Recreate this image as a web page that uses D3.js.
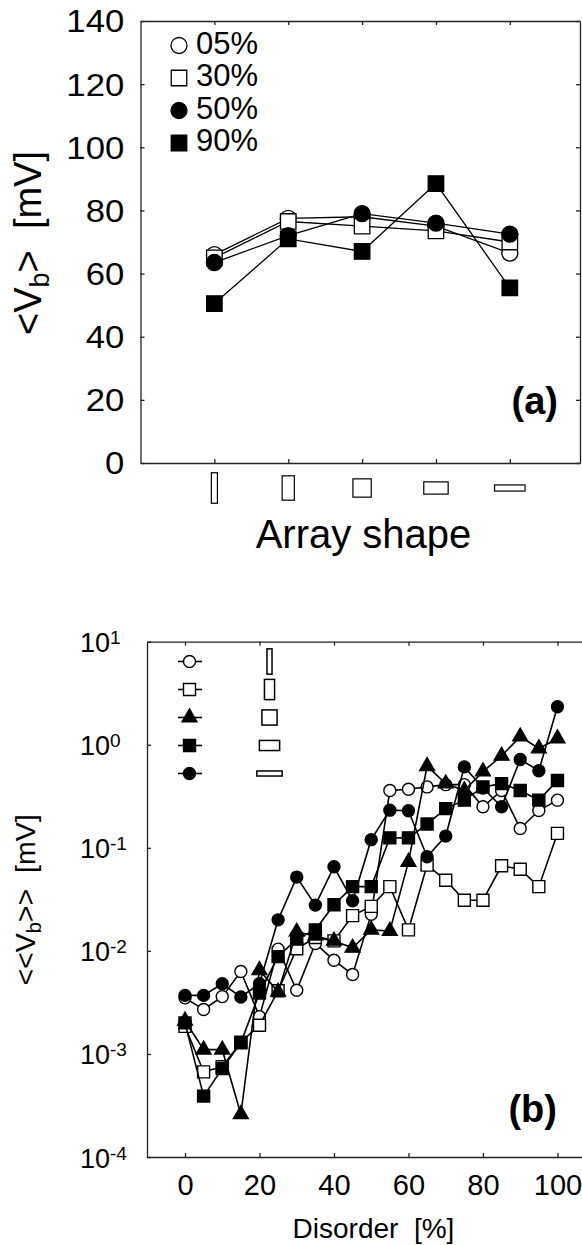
<!DOCTYPE html>
<html>
<head>
<meta charset="utf-8">
<script src="https://cdn.jsdelivr.net/npm/d3@7"></script>
<style>
  body { margin: 0; background: #fff; }
  text { font-family: "Liberation Sans", Arial, Helvetica, sans-serif; fill: #000; }
</style>
</head>
<body>
<svg id="chart" width="582" height="1245"></svg>
<script>

// ---- panel (a): <Vb> vs array shape, one line per disorder level
let shapeW = [10, 20, 30, 40, 50];
let shapeH = [50, 40, 30, 20, 10];
let levelsA = ['05%', '30%', '50%', '90%'];
let vb05 = [66, 77.5, 78, 75, 66.5];
let vb30 = [65, 76.5, 75, 73.5, 70];
let vb50 = [63.5, 72, 79, 76, 72.5];
let vb90 = [50.5, 71, 67, 88.5, 55.5];
let yTicksA = [0, 20, 40, 60, 80, 100, 120, 140];

// ---- panel (b): <<Vb>> vs disorder, one line per array shape
let disorder = [0, 5, 10, 15, 20, 25, 30, 35, 40, 45, 50, 55, 60, 65, 70, 75, 80, 85, 90, 95, 100];
let s10x50 = [3.5e-3, 2.7e-3, 3.6e-3, 6.3e-3, 2.3e-3, 1.04e-2, 4.15e-3, 1.18e-2, 8.1e-3, 5.9e-3, 2.27e-2,
              0.36, 0.37, 0.39, 0.41, 0.41, 0.25, 0.36, 0.154, 0.23, 0.29];
let s20x40 = [1.85e-3, 6.7e-4, 7.5e-4, 1.3e-3, 1.9e-3, 4.1e-3, 1.05e-2, 1.35e-2, 1.25e-2, 2.2e-2, 2.7e-2,
              4.2e-2, 1.6e-2, 6.8e-2, 4.85e-2, 3.1e-2, 3.1e-2, 6.7e-2, 6.2e-2, 4.2e-2, 0.138];
let s30x30 = [2.1e-3, 1.1e-3, 1.1e-3, 2.6e-4, 6.5e-3, 4.0e-3, 1.53e-2, 1.4e-2, 1.25e-2, 1.07e-2, 1.6e-2,
              1.56e-2, 7.3e-2, 0.62, 0.42, 0.36, 0.55, 0.78, 1.2, 0.92, 1.15];
let s40x20 = [2.0e-3, 3.9e-4, 7.2e-4, 1.28e-3, 3.9e-3, 8.8e-3, 1.3e-2, 1.6e-2, 2.8e-2, 4.2e-2, 4.2e-2,
              0.125, 0.125, 0.17, 0.24, 0.29, 0.39, 0.42, 0.36, 0.29, 0.45];
let s50x10 = [3.7e-3, 3.7e-3, 4.8e-3, 3.57e-3, 4.8e-3, 2.0e-2, 5.2e-2, 2.78e-2, 6.55e-2, 3.06e-2, 0.12,
              0.232, 0.229, 0.082, 0.13, 0.61, 0.38, 0.25, 0.72, 0.56, 2.34];
let xTicksB = [0, 20, 40, 60, 80, 100];
let yExpB = [-4, -3, -2, -1, 0, 1];

let svg = d3.select('#chart');

function sym(type, size) {
  return d3.symbol().type(type).size(size)();
}

// ================= panel (a) =================
let xA = d3.scaleLinear().domain([0, 5.95]).range([140.5, 580]);
let yA = d3.scaleLinear().domain([0, 140]).range([463, 21]);
let catsA = [1, 2, 3, 4, 5];
let sizeA = d3.scaleLinear().domain([0, 50]).range([0, 30.5]);

let gA = svg.append('g');

gA.append('g')
  .attr('transform', 'translate(140.5,0)')
  .call(d3.axisLeft(yA).tickValues(yTicksA).tickSizeInner(-4).tickSizeOuter(0).tickPadding(14.5))
  .call(g => g.selectAll('text')
    .attr('font-size', 31)
    .attr('dy', '0.35em')
    .attr('transform', 'scale(1.12,1)'));
gA.append('g')
  .attr('transform', 'translate(580,0)')
  .call(d3.axisRight(yA).tickValues(yTicksA).tickSizeInner(-4).tickSizeOuter(0).tickFormat(''));
gA.append('g')
  .attr('transform', 'translate(0,463)')
  .call(d3.axisBottom(xA).tickValues(catsA).tickSizeInner(-4).tickSizeOuter(0).tickFormat(''));
gA.append('g')
  .attr('transform', 'translate(0,21)')
  .call(d3.axisTop(xA).tickValues(catsA).tickSizeInner(-4).tickSizeOuter(0).tickFormat(''));
gA.selectAll('.domain, .tick line').attr('stroke', '#222').attr('stroke-width', 1.3);

// shape icons as category labels
gA.selectAll('rect.shape')
  .data(catsA)
  .join('rect')
  .attr('class', 'shape')
  .attr('x', (d, i) => xA(d) - sizeA(shapeW[i]) / 2)
  .attr('y', (d, i) => 488 - sizeA(shapeH[i]) / 2)
  .attr('width', (d, i) => sizeA(shapeW[i]))
  .attr('height', (d, i) => sizeA(shapeH[i]))
  .attr('fill', 'none')
  .attr('stroke', '#000')
  .attr('stroke-width', 1.2);

gA.append('text')
  .attr('x', 363.5).attr('y', 548)
  .attr('text-anchor', 'middle')
  .attr('font-size', 40)
  .text('Array shape');

let yLabA = gA.append('text')
  .attr('transform', 'translate(41,243) rotate(-90)')
  .attr('text-anchor', 'middle')
  .attr('font-size', 38);
yLabA.append('tspan').text('<V');
yLabA.append('tspan').attr('font-size', 27).attr('dy', 8).text('b');
yLabA.append('tspan').attr('dy', -8).text('>\u00A0\u00A0[mV]');

gA.append('text')
  .attr('x', 558).attr('y', 414)
  .attr('text-anchor', 'end')
  .attr('font-size', 38)
  .attr('font-weight', 'bold')
  .text('(a)');

let seriesA = [
  { vals: vb05, type: d3.symbolCircle, size: 201, fill: '#fff' },
  { vals: vb30, type: d3.symbolSquare, size: 240, fill: '#fff' },
  { vals: vb50, type: d3.symbolCircle, size: 201, fill: '#000' },
  { vals: vb90, type: d3.symbolSquare, size: 240, fill: '#000' }
];

let lineA = d3.line().x((d, i) => xA(catsA[i])).y(d => yA(d));

seriesA.forEach(s => {
  gA.append('path')
    .attr('d', lineA(s.vals))
    .attr('fill', 'none')
    .attr('stroke', '#000')
    .attr('stroke-width', 1.3);
  gA.selectAll(null)
    .data(s.vals)
    .join('path')
    .attr('transform', (d, i) => `translate(${xA(catsA[i])},${yA(d)})`)
    .attr('d', sym(s.type, s.size))
    .attr('fill', s.fill)
    .attr('stroke', '#000')
    .attr('stroke-width', 1.3);
});

// legend (a)
let legA = gA.selectAll('g.legA')
  .data(levelsA)
  .join('g')
  .attr('class', 'legA')
  .attr('transform', (d, i) => `translate(179,${45.5 + i * 32.5})`);
legA.append('path')
  .attr('d', (d, i) => sym(seriesA[i].type, seriesA[i].size))
  .attr('fill', (d, i) => seriesA[i].fill)
  .attr('stroke', '#000')
  .attr('stroke-width', 1.3);
legA.append('text')
  .attr('x', 17).attr('y', 8)
  .attr('font-size', 31)
  .text(d => d);

// ================= panel (b) =================
let xB = d3.scaleLinear().domain([-10.2, 108.2]).range([147, 588]);
let yB = d3.scaleLog().domain([1e-4, 10]).range([1157, 641.7]);
let sizeB = d3.scaleLinear().domain([0, 50]).range([0, 25.3]);
let yTickVals = yExpB.map(e => Math.pow(10, e));

let gB = svg.append('g');

gB.append('g')
  .attr('transform', 'translate(147,0)')
  .call(d3.axisLeft(yB).tickValues(yTickVals).tickSizeInner(-4).tickSizeOuter(0).tickFormat(''));
gB.append('g')
  .attr('transform', 'translate(588,0)')
  .call(d3.axisRight(yB).tickValues(yTickVals).tickSizeInner(-4).tickSizeOuter(0).tickFormat(''));
gB.append('g')
  .attr('transform', 'translate(0,1157)')
  .call(d3.axisBottom(xB).tickValues(xTicksB).tickSizeInner(-4).tickSizeOuter(0).tickPadding(17))
  .call(g => g.selectAll('text').attr('font-size', 29));
gB.append('g')
  .attr('transform', 'translate(0,641.7)')
  .call(d3.axisTop(xB).tickValues(xTicksB).tickSizeInner(-4).tickSizeOuter(0).tickFormat(''));
gB.selectAll('.domain, .tick line').attr('stroke', '#222').attr('stroke-width', 1.3);

// 10^n tick labels
let yLabs = gB.selectAll('text.ylab')
  .data(yExpB)
  .join('text')
  .attr('class', 'ylab')
  .attr('x', 80)
  .attr('y', d => yB(Math.pow(10, d)) + 10.5)
  .attr('font-size', 27);
yLabs.append('tspan').text('10');
yLabs.append('tspan').attr('font-size', 19).attr('dy', -8).text(d => String(d));

gB.append('text')
  .attr('x', 373.5).attr('y', 1238)
  .attr('text-anchor', 'middle')
  .attr('font-size', 28)
  .text('Disorder\u00A0\u00A0[%]');

let yLabB = gB.append('text')
  .attr('transform', 'translate(35,900) rotate(-90)')
  .attr('text-anchor', 'middle')
  .attr('font-size', 28.5);
yLabB.append('tspan').text('<<V');
yLabB.append('tspan').attr('font-size', 20).attr('dy', 6).text('b');
yLabB.append('tspan').attr('dy', -6).text('>>\u00A0\u00A0[mV]');

gB.append('text')
  .attr('x', 557).attr('y', 1122)
  .attr('text-anchor', 'end')
  .attr('font-size', 38)
  .attr('font-weight', 'bold')
  .text('(b)');

let seriesB = [
  { vals: s10x50, type: d3.symbolCircle, size: 113, fill: '#fff', w: 10, h: 50 },
  { vals: s20x40, type: d3.symbolSquare, size: 144, fill: '#fff', w: 20, h: 40 },
  { vals: s30x30, type: d3.symbolTriangle, size: 95, fill: '#000', w: 30, h: 30 },
  { vals: s50x10, type: d3.symbolCircle, size: 113, fill: '#000', w: 50, h: 10 },
  { vals: s40x20, type: d3.symbolSquare, size: 144, fill: '#000', w: 40, h: 20 }
];

let lineB = d3.line().x((d, i) => xB(disorder[i])).y(d => yB(d));

seriesB.forEach(s => {
  gB.append('path')
    .attr('d', lineB(s.vals))
    .attr('fill', 'none')
    .attr('stroke', '#000')
    .attr('stroke-width', 1.6);
  gB.selectAll(null)
    .data(s.vals)
    .join('path')
    .attr('transform', (d, i) => `translate(${xB(disorder[i])},${yB(d)})`)
    .attr('d', sym(s.type, s.size))
    .attr('fill', s.fill)
    .attr('stroke', '#000')
    .attr('stroke-width', 1.4);
});

// legend (b): marker on a short line, plus the array shape
let legOrder = [0, 1, 2, 4, 3];
let legB = gB.selectAll('g.legB')
  .data(legOrder.map(k => seriesB[k]))
  .join('g')
  .attr('class', 'legB')
  .attr('transform', (d, i) => `translate(0,${661.5 + i * 28})`);
legB.append('line')
  .attr('x1', 178).attr('x2', 202)
  .attr('stroke', '#000').attr('stroke-width', 1.6);
legB.append('path')
  .attr('transform', 'translate(189.5,0)')
  .attr('d', d => sym(d.type, d.size))
  .attr('fill', d => d.fill)
  .attr('stroke', '#000')
  .attr('stroke-width', 1.4);
legB.append('rect')
  .attr('x', d => 269.5 - sizeB(d.w) / 2)
  .attr('y', d => -sizeB(d.h) / 2)
  .attr('width', d => sizeB(d.w))
  .attr('height', d => sizeB(d.h))
  .attr('fill', 'none')
  .attr('stroke', '#000')
  .attr('stroke-width', 1.5);

</script>
</body>
</html>
